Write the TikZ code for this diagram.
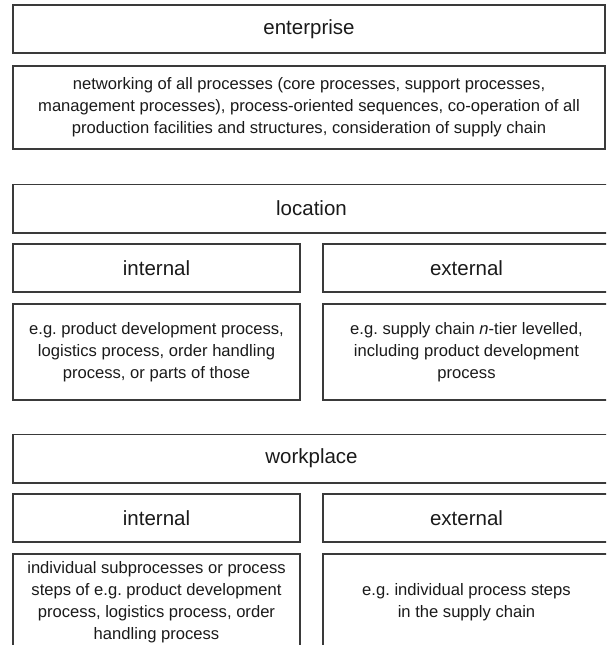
\documentclass[tikz,border=0pt]{standalone}
\usepackage{fontspec}
\setmainfont{Liberation Sans}
\frenchspacing
\definecolor{linecol}{HTML}{3A3A3A}
\definecolor{txtcol}{HTML}{1A1A1A}
\tikzset{
  box/.style={draw=linecol, line width=1.5pt, rectangle, inner sep=0pt, align=center, text=txtcol},
  head/.style={box, font=\fontsize{20.5}{24}\selectfont},
  desc/.style={box, font=\fontsize{16.6}{22}\selectfont},
  desctext/.style={inner sep=0pt, align=center, text=txtcol, font=\fontsize{16.6}{22}\selectfont}
}
\begin{document}
\begin{tikzpicture}[x=1pt,y=-1pt]
\useasboundingbox (0,0) rectangle (606,645);
\clip (0,0) rectangle (606,645);
% enterprise
\node[head, minimum width=592pt, minimum height=48pt] (ent) at (309,29) {enterprise};
\node[desc, minimum width=592pt, minimum height=83pt] (entd) at (309,107.5)
  {networking of all processes (core processes, support processes,\\
   management processes), process-oriented sequences, co-operation of all\\
   production facilities and structures, consideration of supply chain};
% location
\node[head, minimum width=597pt, minimum height=48.5pt] (loc) at (311.5,208.5) {location};
\node[head, minimum width=287pt, minimum height=48pt] (locint) at (156.5,268) {internal};
\node[head, minimum width=287pt, minimum height=48pt] (locext) at (466.5,268) {external};
\node[desc, minimum width=287pt, minimum height=96pt] (locintd) at (156.5,352)
  {e.g. product development process,\\ logistics process, order handling\\ process, or parts of those};
\node[desc, minimum width=287pt, minimum height=96pt] (locextd) at (466.5,352)
  {e.g. supply chain \textit{n}-tier levelled,\\ including product development\\ process};
% workplace
\node[head, minimum width=597pt, minimum height=48.5pt] (wp) at (311.5,458.5) {workplace};
\node[head, minimum width=287pt, minimum height=48pt] (wpint) at (156.5,518) {internal};
\node[head, minimum width=287pt, minimum height=48pt] (wpext) at (466.5,518) {external};
\node[box, minimum width=287pt, minimum height=96pt] (wpintd) at (156.5,602) {};
\node[box, minimum width=287pt, minimum height=96pt] (wpextd) at (466.5,602) {};
\node[desctext] (wpintdt) at (wpintd.center)
  {individual subprocesses or process\\ steps of e.g. product development\\ process, logistics process, order\\ handling process};
\node[desctext] (wpextdt) at (wpextd.center)
  {e.g. individual process steps\\ in the supply chain};
\end{tikzpicture}
\end{document}
